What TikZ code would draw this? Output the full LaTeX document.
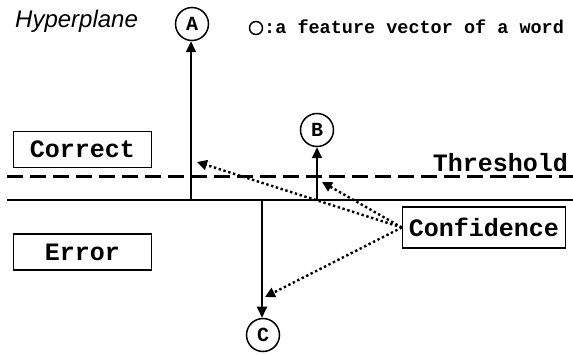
\documentclass[tikz,border=0pt]{standalone}
\usepackage{fontspec}
\setmainfont{Liberation Sans}
\newfontfamily\cour{Liberation Mono}
\usetikzlibrary{arrows.meta}
\begin{document}
\begin{tikzpicture}[x=1pt,y=-1pt,
  vec/.style={circle,draw,line width=1.5pt,minimum size=33pt,inner sep=0pt,
    font=\cour\bfseries\fontsize{20}{20}\selectfont},
  label box/.style={draw,line width=1.2pt,minimum width=138pt,minimum height=36pt,inner sep=0pt,
    font=\cour\bfseries\fontsize{25}{25}\selectfont},
  solidarrow/.style={line width=1.8pt,-{Triangle[length=11pt,width=10pt]}},
  dotarrow/.style={line width=2.4pt,dash pattern=on 2.4pt off 2.6pt,
    -{Triangle[length=10pt,width=10pt]}},
  plane/.style={line width=2pt},
  thresh/.style={line width=3pt,dash pattern=on 16pt off 7pt}]
\useasboundingbox (0,0) rectangle (573,355);

% title and legend
\node[anchor=base west,inner sep=0pt,font=\itshape\fontsize{24}{24}\selectfont] (title) at (15,28) {Hyperplane};
\node[circle,draw,line width=1.5pt,minimum size=13pt,inner sep=0pt] (legc) at (256,28) {};
\node[anchor=base west,inner sep=0pt,font=\cour\bfseries\fontsize{18.5}{18.5}\selectfont] (legt) at (264,34) {:a feature vector of a word};

% hyperplane and threshold
\coordinate (hl) at (7,200);
\coordinate (hr) at (573,200);
\coordinate (tl) at (7,177);
\coordinate (tr) at (573,177);
\draw[plane] (hl) -- (hr);
\draw[thresh] (tl) -- (tr);
\node[anchor=base east,inner sep=0pt,font=\cour\bfseries\fontsize{25}{25}\selectfont] (thr) at (568,172) {Threshold};

% region labels
\node[label box] (correct) at (82.5,149.5) {Correct};
\node[label box] (error) at (82.5,252) {Error};
\node[label box,minimum width=163pt,minimum height=41pt] (conf) at (484,227.5) {Confidence};

% feature vectors
\node[vec] (A) at (192,24) {A};
\node[vec] (B) at (317,130) {B};
\node[vec] (C) at (263,335) {C};
\coordinate (a0) at (191,200);
\coordinate (b0) at (317,200);
\coordinate (c0) at (262,200);
\draw[solidarrow] (a0) -- (a0 |- A.south);
\draw[solidarrow] (b0) -- (B);
\draw[solidarrow] (c0) -- (c0 |- C.north);

% confidence pointers
\coordinate (ta) at (197,162);
\coordinate (tb) at (322,182);
\coordinate (tc) at (265,297);
\draw[dotarrow] (conf.west) -- (ta);
\draw[dotarrow] (conf.west) -- (tb);
\draw[dotarrow] (conf.west) -- (tc);
\end{tikzpicture}
\end{document}
